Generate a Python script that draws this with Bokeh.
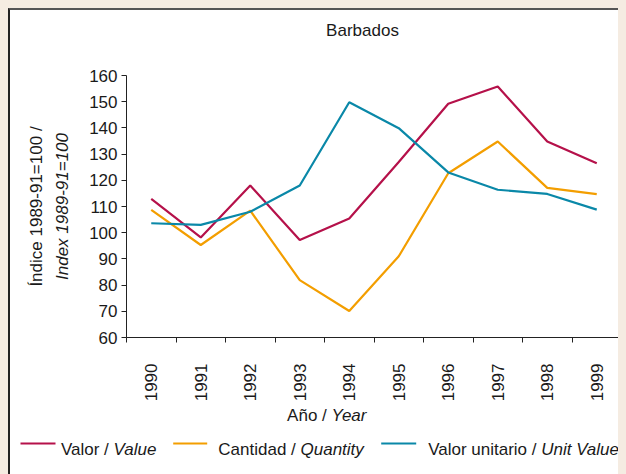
import numpy as np
from bokeh.plotting import figure
from bokeh.models import Range1d, FixedTicker, Title
from bokeh.layouts import column, row
from bokeh.embed import file_html
from bokeh.resources import INLINE
from bokeh.core.properties import value

# ---- data ----
years = [1990, 1991, 1992, 1993, 1994, 1995, 1996, 1997, 1998, 1999]
valor = [112.9, 98.2, 118.0, 97.2, 105.4, 127.0, 149.2, 155.8, 134.8, 126.5]
cantidad = [108.7, 95.3, 108.4, 81.9, 70.1, 91.0, 122.7, 134.8, 117.1, 114.7]
unitario = [103.6, 103.0, 108.0, 118.0, 149.8, 139.9, 123.0, 116.4, 114.8, 108.8]
y_ticks = [60, 70, 80, 90, 100, 110, 120, 130, 140, 150, 160]
names_es = ["Valor", "Cantidad", "Valor unitario"]
names_en = ["Value", "Quantity", "Unit Value"]
title_text = "Barbados"
ylabel_es = "Índice 1989-91=100 /"
ylabel_en = "Index 1989-91=100"
xlabel_es = "Año /"
xlabel_en = "Year"

# ---- styles ----
FONT = "Liberation Sans"
FS = "17px"
SPACE = 4.7          # width of a space at 17px
TXT = "#1a1a1a"
COLORS = ["#B5114A", "#F39E00", "#0A88A8"]
LW = 2.2
W = 616


def strip(height):
    f = figure(width=W, height=height, x_range=Range1d(0, W), y_range=Range1d(height, 0),
               output_backend="svg", toolbar_location=None, min_border=0,
               title_location=None,
               x_axis_type=None, y_axis_type=None, outline_line_color=None,
               background_fill_color="white", border_fill_color="white")
    f.grid.visible = False
    return f


txt_kw = dict(text_font=value(FONT), text_font_size=value(FS), text_color=TXT,
              text_baseline="alphabetic")

# ---- title strip ----
t = strip(53)
t.text(x=[352], y=[20], text=[title_text], text_align="center",
       text_font_style="normal", **txt_kw)

# ---- main chart ----
p = figure(width=W, height=342,
           x_range=Range1d(min(years) - 0.5, max(years) + 0.5),
           y_range=Range1d(y_ticks[0], y_ticks[-1]),
           output_backend="svg", toolbar_location=None,
           min_border_left=116, min_border_right=5,
           min_border_top=12, min_border_bottom=68,
           background_fill_color="white", border_fill_color="white",
           outline_line_color=None)
p.grid.visible = False

for series, col in zip([valor, cantidad, unitario], COLORS):
    p.line(years, series, line_color=col, line_width=LW)

bounds = [y - 0.5 for y in years] + [years[-1] + 0.5]
xa = p.xaxis[0]
xa.ticker = FixedTicker(ticks=years, minor_ticks=bounds)
xa.major_label_overrides = {y: str(y) for y in years}
xa.major_tick_out = 0
xa.major_tick_in = 0
xa.minor_tick_out = 5
xa.minor_tick_in = 0
xa.minor_tick_line_color = "#222"
xa.axis_line_color = "#222"
xa.major_label_orientation = np.pi / 2
xa.major_label_standoff = 21
xa.major_label_text_font = FONT
xa.major_label_text_font_size = FS
xa.major_label_text_color = TXT

ya = p.yaxis[0]
ya.ticker = FixedTicker(ticks=y_ticks)
ya.major_tick_out = 5
ya.major_tick_in = 0
ya.major_tick_line_color = "#222"
ya.axis_line_color = "#222"
ya.major_label_standoff = 4
ya.major_label_text_font = FONT
ya.major_label_text_font_size = FS
ya.major_label_text_color = TXT
ya.axis_label = ylabel_en
ya.axis_label_text_font = FONT
ya.axis_label_text_font_size = FS
ya.axis_label_text_font_style = "italic"
ya.axis_label_text_color = TXT
ya.axis_label_standoff = 14

p.add_layout(Title(text=ylabel_es, align="center", standoff=10,
                   text_font=FONT, text_font_size=FS, text_font_style="normal",
                   text_color=TXT), "left")

# ---- x label + legend strip ----
q = strip(69)
q.text(x=[321 - SPACE], y=[10], text=[xlabel_es], text_align="right",
       text_font_style="normal", **txt_kw)
q.text(x=[321], y=[10], text=[xlabel_en], text_align="left",
       text_font_style="italic", **txt_kw)

seg_x0 = [10, 162.7, 370.7]
seg_x1 = [45, 196.7, 405.7]
en_x = [103, 290, 530.7]
q.segment(x0=seg_x0, y0=[38] * 3, x1=seg_x1, y1=[38] * 3, line_color=COLORS, line_width=LW)
q.text(x=[x - SPACE for x in en_x], y=[44] * 3, text=[n + " /" for n in names_es],
       text_align="right", text_font_style="normal", **txt_kw)
q.text(x=en_x, y=[44] * 3, text=names_en, text_align="left",
       text_font_style="italic", **txt_kw)

layout = column(row(t), row(p), row(q), spacing=0,
                styles={"border-left": "2px solid #222", "border-top": "2px solid #555",
                        "background-color": "white"})

html = file_html(layout, INLINE)
css = ("<style>html{background:#F5ECE2;overflow:hidden;}"
       "body{margin:8px !important;height:auto !important;background:#F5ECE2;overflow:hidden;}</style>")
html = html.replace("</head>", css + "</head>", 1)
open("out.html", "w").write(html)
